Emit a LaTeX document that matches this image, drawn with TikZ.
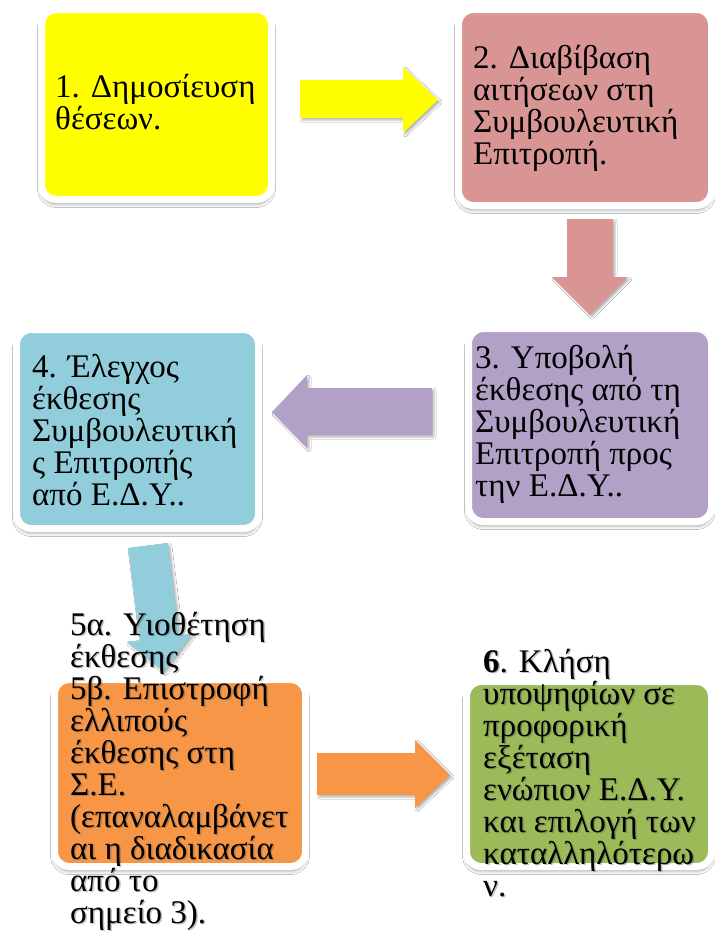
\documentclass[tikz,border=0pt]{standalone}
\usepackage{fontspec}
\setmainfont{Liberation Serif}
\usetikzlibrary{shadows.blur}

\definecolor{cyellow}{HTML}{FFFF00}
\definecolor{cpink}{HTML}{D99594}
\definecolor{cpurple}{HTML}{B2A1C7}
\definecolor{cblue}{HTML}{92CDDC}
\definecolor{corange}{HTML}{F79646}
\definecolor{cgreen}{HTML}{9BBB59}

% lines of a text block; the node's base anchor is the first baseline
\newcommand\stacklines[1]{\vtop{\baselineskip=32pt\lineskiplimit=-100pt\lineskip=0pt
  \halign{##\hfil\cr#1\crcr}}}

\tikzset{
  stagebox/.style={rectangle, draw=white, line width=7pt, rounded corners=15pt,
    inner sep=0pt,
    blur shadow={shadow xshift=0pt, shadow yshift=-4pt, shadow blur radius=4pt,
      shadow opacity=45}},
  blockarrow/.style={blur shadow={shadow xshift=2pt, shadow yshift=-2pt,
      shadow blur radius=2pt, shadow opacity=30}},
  stagetext/.style={anchor=base west, inner sep=0pt, text=black,
    font=\fontsize{33}{32}\selectfont},
  textshade/.style={stagetext, text=black!70, opacity=0.35},
}

\begin{document}
\begin{tikzpicture}[x=1pt, y=-1pt]
\useasboundingbox[fill=white] (0,0) rectangle (715,938);

% stage boxes
\node[stagebox, fill=cyellow, minimum width=230pt, minimum height=190pt] (b1) at (156.5,104.5) {};
\node[stagebox, fill=cpink,   minimum width=253pt, minimum height=196pt] (b2) at (585,107.5) {};
\node[stagebox, fill=cpurple, minimum width=243pt, minimum height=193pt] (b3) at (590,425) {};
\node[stagebox, fill=cblue,   minimum width=242pt, minimum height=199pt] (b4) at (137.5,429) {};
\node[stagebox, fill=corange, minimum width=251pt, minimum height=187pt] (b5) at (180,773) {};
\node[stagebox, fill=cgreen,  minimum width=245pt, minimum height=185pt] (b6) at (589,774) {};

% block arrows between the stages
\fill[cyellow, blockarrow] (300,80) -- (403,80) -- (403,67) -- (438,100)
  -- (403,133) -- (403,118) -- (300,118) -- cycle;
\fill[cpink, blockarrow] (567,219) -- (613,219) -- (613,277) -- (628,277)
  -- (590,315) -- (552,277) -- (567,277) -- cycle;
\fill[cpurple, blockarrow] (432,388) -- (307,388) -- (307,375) -- (272,412)
  -- (307,448) -- (307,435) -- (432,435) -- cycle;
\fill[cblue, blockarrow] (128.2,548) -- (167.8,543) -- (179.3,635.3) -- (192.2,633.7)
  -- (163.7,671.5) -- (126.8,641.9) -- (139.7,640.3) -- cycle;
\fill[corange, blockarrow] (317,753) -- (415,753) -- (415,740) -- (450,775)
  -- (415,808) -- (415,795) -- (317,795) -- cycle;

% stage texts
\node[stagetext] (t1) at (55,97) {\stacklines{1. Δημοσίευση\cr θέσεων.}};
\node[stagetext] (t2) at (473,68) {\stacklines{2. Διαβίβαση\cr αιτήσεων στη\cr
  Συμβουλευτική\cr Επιτροπή.}};
\node[stagetext] (t3) at (475,368) {\stacklines{3. Υποβολή\cr έκθεσης από τη\cr
  Συμβουλευτική\cr Επιτροπή προς\cr την Ε.Δ.Υ..}};
\node[stagetext] (t4) at (32,377) {\stacklines{4. Έλεγχος\cr έκθεσης\cr
  Συμβουλευτική\cr ς Επιτροπής\cr από Ε.Δ.Υ..}};

\node[textshade] (t5s) at (71.5,636.5) {\stacklines{5α. Υιοθέτηση\cr έκθεσης\cr
  5β. Επιστροφή\cr ελλιπούς\cr έκθεσης στη\cr Σ.Ε.\cr (επαναλαμβάνετ\cr
  αι η διαδικασία\cr από το\cr σημείο 3).}};
\node[stagetext] (t5) at (70,635) {\stacklines{5α. Υιοθέτηση\cr έκθεσης\cr
  5β. Επιστροφή\cr ελλιπούς\cr έκθεσης στη\cr Σ.Ε.\cr (επαναλαμβάνετ\cr
  αι η διαδικασία\cr από το\cr σημείο 3).}};

\node[textshade] (t6s) at (484.5,673.5) {\stacklines{\textbf{6}. Κλήση\cr
  υποψηφίων σε\cr προφορική\cr εξέταση\cr ενώπιον Ε.Δ.Υ.\cr και επιλογή των\cr
  καταλληλότερω\cr ν.}};
\node[stagetext] (t6) at (483,672) {\stacklines{\textbf{6}. Κλήση\cr
  υποψηφίων σε\cr προφορική\cr εξέταση\cr ενώπιον Ε.Δ.Υ.\cr και επιλογή των\cr
  καταλληλότερω\cr ν.}};
\end{tikzpicture}
\end{document}
